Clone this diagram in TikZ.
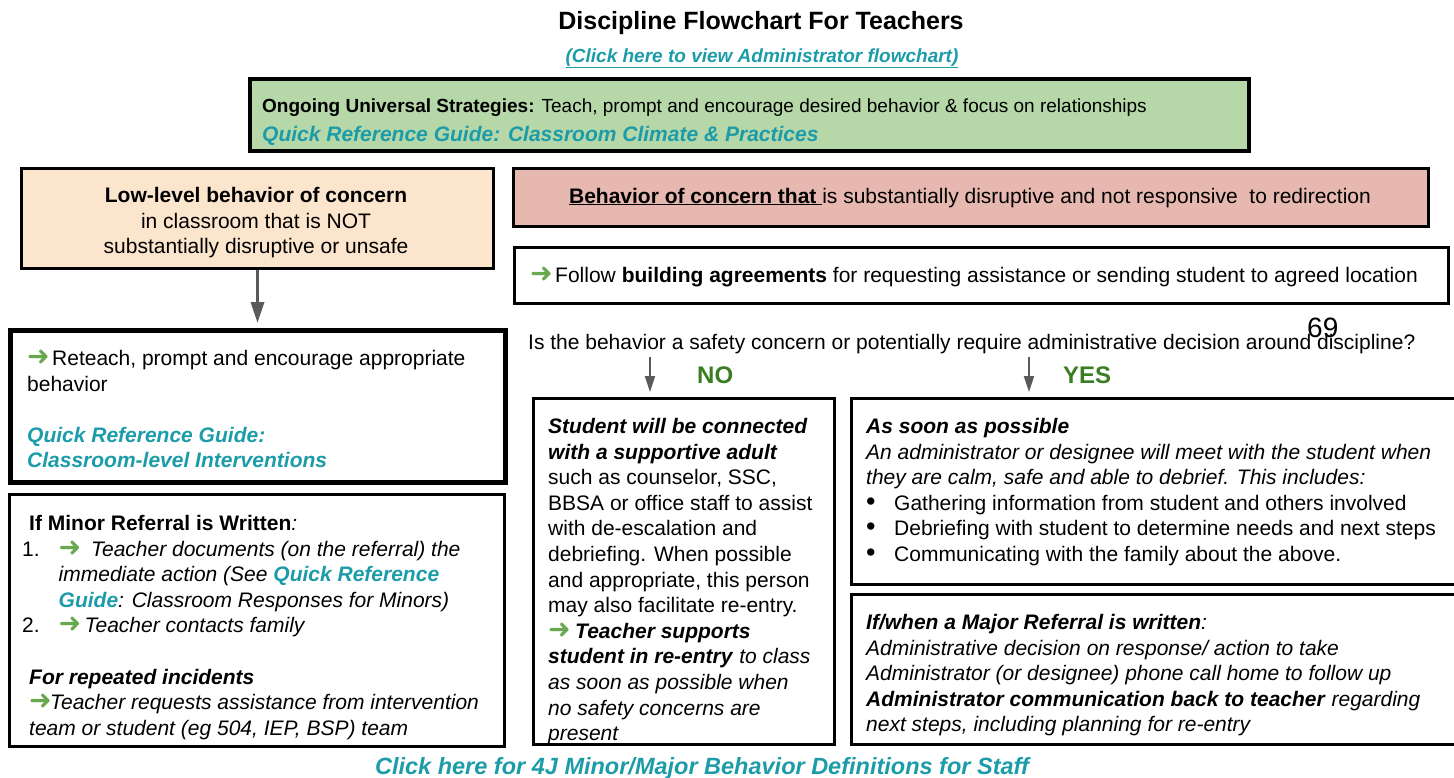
\documentclass[tikz,border=0pt]{standalone}
\usepackage{fontspec}
\setmainfont{Liberation Sans}
\newfontfamily\symfont{DejaVu Sans}
\usetikzlibrary{arrows.meta}

\definecolor{stratgreen}{HTML}{B6D7A8}
\definecolor{lowyellow}{HTML}{FCE5CD}
\definecolor{alertred}{HTML}{E6B8AF}
\definecolor{linkteal}{HTML}{1C9CA8}
\definecolor{answergreen}{HTML}{3A7D22}
\definecolor{pointgreen}{HTML}{6AA84F}
\definecolor{arrowgray}{HTML}{5A5A5A}

% small helpers for the recurring text looks
\newcommand{\pointer}{{\symfont\fontsize{27}{27}\selectfont\color{pointgreen}➜}}
\newcommand{\listdot}{{\fontsize{27}{27}\selectfont\textbullet}}
\newcommand{\guide}[1]{\textcolor{linkteal}{\textbf{\textit{#1}}}}
\newcommand{\weblink}[1]{\textcolor{linkteal}{\underline{\textbf{\textit{#1}}}}}
\newcommand{\bi}[1]{\textbf{\textit{#1}}}

\tikzset{
  panel/.style={draw, anchor=north west, inner sep=0pt, line width=3pt},
  body/.style={anchor=north west, inner sep=0pt, align=left, font=\fontsize{21}{25.6}\selectfont},
  flow/.style={draw=arrowgray, line width=3.3pt, -{Triangle[length=21pt, width=13pt]}},
  branch/.style={draw=arrowgray, line width=2pt, -{Triangle[length=16pt, width=10pt]}},
  answer/.style={anchor=base west, inner sep=0pt, text=answergreen, font=\fontsize{24}{24}\selectfont\bfseries}
}

\begin{document}
\begin{tikzpicture}[x=1pt, y=-1pt]
        \useasboundingbox (0,0) rectangle (1454,777);

        % Heading
        \node (title) [anchor=base, inner sep=0pt, font=\fontsize{25}{25}\selectfont\bfseries] at (761,29) {Discipline Flowchart For Teachers};
        \node (adminlink) [anchor=base, inner sep=0pt, font=\fontsize{19}{19}\selectfont] at (762,62) {\weblink{(Click here to view Administrator flowchart)}};

        % Boxes
        \node (strategies) [panel, line width=3.5pt, fill=stratgreen, minimum width=999pt, minimum height=72pt] at (248,77) {};
        \node (lowlevel) [panel, fill=lowyellow, minimum width=472pt, minimum height=100pt] at (20,167) {};
        \node (reteach) [panel, line width=4.5pt, minimum width=495pt, minimum height=152pt] at (8,328) {};
        \node (minor) [panel, line width=2.5pt, minimum width=495pt, minimum height=252pt] at (8,493) {};
        \node (disruptive) [panel, fill=alertred, minimum width=915pt, minimum height=58pt] at (512,167) {};
        \node (building) [panel, minimum width=934pt, minimum height=56pt] at (513,246) {};
        \node (nobox) [panel, line width=2.5pt, minimum width=301pt, minimum height=346pt] at (532,397) {};
        \node (asap) [panel, minimum width=610pt, minimum height=186pt] at (850,397) {};
        \node (major) [panel, minimum width=610pt, minimum height=150pt] at (850,593) {};

        % Box texts
        \node (strategiestext) [body, font=\fontsize{19}{29}\selectfont] at (262,99) {\textbf{Ongoing Universal Strategies:} Teach, prompt and encourage desired behavior \& focus on relationships\\
            {\fontsize{21}{29}\selectfont\guide{Quick Reference Guide: Classroom Climate \& Practices}}};
        \node (lowleveltext) [body, anchor=north, align=center] at (256,187) {\textbf{Low-level behavior of concern}\\
            in classroom that is NOT\\
            substantially disruptive or unsafe};
        \node (reteachtext) [body] at (27,350) {\makebox[25pt][l]{\pointer}Reteach, prompt and encourage appropriate\\
            behavior\\[25.6pt]
            \guide{Quick Reference Guide:}\\
            \guide{Classroom-level Interventions}};
        \node (minortext) [body] at (22,515) {\hspace*{7pt}\textbf{If Minor Referral is Written}\textit{:}\\
            \makebox[36.5pt][l]{1.}\makebox[32.5pt][l]{\pointer}\textit{Teacher documents (on the referral) the}\\
            \hspace*{36.5pt}\textit{immediate action (See }\guide{Quick Reference}\\
            \hspace*{36.5pt}\guide{Guide}\textit{: Classroom Responses for Minors)}\\
            \makebox[36.5pt][l]{2.}\makebox[26pt][l]{\pointer}\textit{Teacher contacts family}\\[25.6pt]
            \hspace*{7pt}\bi{For repeated incidents}\\
            \hspace*{7pt}\makebox[21pt][l]{\pointer}\textit{Teacher requests assistance from intervention}\\
            \hspace*{7pt}\textit{team or student (eg 504, IEP, BSP) team}};
        \node (disruptivetext) [anchor=base, inner sep=0pt, font=\fontsize{21}{21}\selectfont] at (970,203) {\underline{\textbf{Behavior of concern that}\ }is substantially disruptive and not responsive~ to redirection};
        \node (buildingtext) [anchor=base west, inner sep=0pt, font=\fontsize{21}{21}\selectfont] at (530,282) {\makebox[25pt][l]{\pointer}Follow \textbf{building agreements} for requesting assistance or sending student to agreed location};
        \node (question) [anchor=base west, inner sep=0pt, font=\fontsize{21}{21}\selectfont] at (528,349) {Is the behavior a safety concern or potentially require administrative decision around discipline?};
        \node (pagemark) [anchor=base west, inner sep=0pt, font=\fontsize{28}{28}\selectfont] at (1307,337) {69};
        \node (notext) [body] at (548,418) {\bi{Student will be connected}\\
            \bi{with a supportive adult}\\
            such as counselor, SSC,\\
            BBSA or office staff to assist\\
            with de-escalation and\\
            debriefing. When possible\\
            and appropriate, this person\\
            may also facilitate re-entry.\\
            \makebox[27pt][l]{\pointer}\bi{Teacher supports}\\
            \bi{student in re-entry} \textit{to class}\\
            \textit{as soon as possible when}\\
            \textit{no safety concerns are}\\
            \textit{present}};
        \node (asaptext) [body] at (866,418) {\bi{As soon as possible}\\
            \textit{An administrator or designee will meet with the student when}\\
            \textit{they are calm, safe and able to debrief. This includes:}\\
            \makebox[28pt][l]{\listdot}Gathering information from student and others involved\\
            \makebox[28pt][l]{\listdot}Debriefing with student to determine needs and next steps\\
            \makebox[28pt][l]{\listdot}Communicating with the family about the above.};
        \node (majortext) [body] at (866,614) {\bi{If/when a Major Referral is written}\textit{:}\\
            \textit{Administrative decision on response/ action to take}\\
            \textit{Administrator (or designee) phone call home to follow up}\\
            \bi{Administrator communication back to teacher} \textit{regarding}\\
            \textit{next steps, including planning for re-entry}};

        % Answers
        \node (no) [answer] at (697,383) {NO};
        \node (yes) [answer] at (1063,383) {YES};

        % Footer
        \node (deflink) [anchor=base, inner sep=0pt, font=\fontsize{23.5}{23.5}\selectfont] at (703,774) {\weblink{Click here for 4J Minor/Major Behavior Definitions for Staff}};

        % Edges
        \coordinate (nofork) at (650,0);
        \coordinate (yesfork) at (1029,0);
        \draw[flow, shorten >=5pt] (lowlevel.south) -- (reteach.north -| lowlevel.south);
        \draw[branch, shorten <=3pt, shorten >=5pt] (question.south -| nofork) -- (nobox.north -| nofork);
        \draw[branch, shorten <=3pt, shorten >=5pt] (question.south -| yesfork) -- (asap.north -| yesfork);
    \end{tikzpicture}
\end{document}
